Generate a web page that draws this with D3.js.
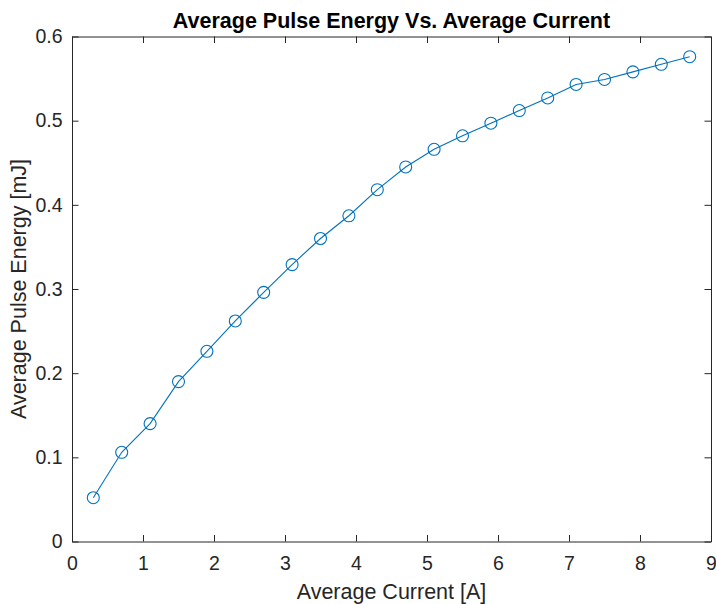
<!DOCTYPE html>
<html><head><meta charset="utf-8">
<script src="https://cdn.jsdelivr.net/npm/d3@7"></script>
<style>body{margin:0;background:#fff;} svg{display:block;}</style>
</head><body>
<svg id="c" width="716" height="604"></svg>
<script>
const currents = [0.3,0.7,1.1,1.5,1.9,2.3,2.7,3.1,3.5,3.9,4.3,4.7,5.1,5.5,5.9,6.3,6.7,7.1,7.5,7.9,8.3,8.7];
const energies = [0.052,0.106,0.140,0.190,0.226,0.262,0.296,0.329,0.360,0.387,0.418,0.445,0.466,0.482,0.497,0.512,0.527,0.543,0.549,0.558,0.567,0.576];
const xTicks = [0,1,2,3,4,5,6,7,8,9];
const yTicks = [0,0.1,0.2,0.3,0.4,0.5,0.6];
const titleText = "Average Pulse Energy Vs. Average Current";
const xLabel = "Average Current [A]";
const yLabel = "Average Pulse Energy [mJ]";

const L=72, R=711, T=36.5, B=541.5;
const svg = d3.select("#c");
const x = d3.scaleLinear().domain([0,9]).range([L,R]);
const y = d3.scaleLinear().domain([0,0.6]).range([B,T]);
const font = "'Liberation Sans', Arial, Helvetica, sans-serif";
const axCol = "#262626";
const tl = 6.5;

function styleAxis(g){
  g.selectAll("path").attr("stroke",axCol).attr("stroke-width",1);
  g.selectAll("line").attr("stroke",axCol).attr("stroke-width",1);
  g.selectAll("text").attr("fill",axCol).style("font-family",font).style("font-size","19.5px");
}
const fmtY = d=> d===0?"0":d3.format(".1f")(d);
const gx = svg.append("g").attr("transform",`translate(0,${B})`)
  .call(d3.axisBottom(x).tickValues(xTicks).tickSize(-tl).tickPadding(14).tickFormat(d3.format("d")).tickSizeOuter(0))
  .call(styleAxis);
gx.selectAll("text").attr("dy",null).attr("y",28.5);
svg.append("g").attr("transform",`translate(0,${T})`)
  .call(d3.axisTop(x).tickValues(xTicks).tickSize(-tl).tickFormat("").tickSizeOuter(0))
  .call(styleAxis);
svg.append("g").attr("transform",`translate(${L},0)`)
  .call(d3.axisLeft(y).tickValues(yTicks).tickSize(-tl).tickPadding(9.5).tickFormat(fmtY).tickSizeOuter(0))
  .call(styleAxis);
svg.append("g").attr("transform",`translate(${R},0)`)
  .call(d3.axisRight(y).tickValues(yTicks).tickSize(-tl).tickFormat("").tickSizeOuter(0))
  .call(styleAxis);

const data = currents.map((c,i)=>({c, e:energies[i]}));
const col = "#0072BD";
svg.append("path").datum(data)
  .attr("fill","none").attr("stroke",col).attr("stroke-width",1.1)
  .attr("d", d3.line().x(d=>x(d.c)).y(d=>y(d.e)));
svg.append("g").selectAll("circle").data(data).join("circle")
  .attr("cx",d=>x(d.c)).attr("cy",d=>y(d.e)).attr("r",6)
  .attr("fill","none").attr("stroke",col).attr("stroke-width",1.1);

svg.append("text").attr("x",(L+R)/2).attr("y",28).attr("text-anchor","middle")
  .style("font-family",font).style("font-size","21.5px").style("font-weight","bold").attr("fill","#000")
  .text(titleText);
svg.append("text").attr("x",(L+R)/2).attr("y",599).attr("text-anchor","middle")
  .style("font-family",font).style("font-size","21.5px").attr("fill",axCol)
  .text(xLabel);
svg.append("text").attr("transform",`translate(26,${(T+B)/2}) rotate(-90)`).attr("text-anchor","middle")
  .style("font-family",font).style("font-size","21.5px").attr("fill",axCol)
  .text(yLabel);
</script>
</body></html>
